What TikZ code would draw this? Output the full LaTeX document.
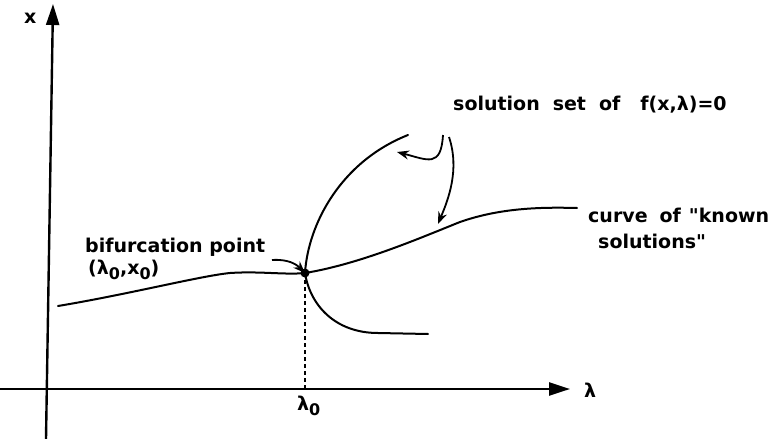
\documentclass[tikz,border=0pt]{standalone}
\usepackage{fontspec}
\setmainfont[Ligatures=TeXOff]{DejaVu Sans}
\usetikzlibrary{arrows.meta}

\begin{document}
\begin{tikzpicture}[
    x=1pt, y=-1pt,
    font=\bfseries\fontsize{19}{23}\selectfont,
    lbl/.style={inner sep=0pt, anchor=west},
    curve/.style={line width=2pt, line cap=round, line join=round},
    axis/.style={line width=2.4pt, -{Triangle[length=21pt, width=13pt]}},
    arr/.style={line width=1.8pt, -{Stealth[length=12pt, width=9pt]}}
]
\useasboundingbox (0,0) rectangle (782,439);
\newcommand{\sub}[1]{\raisebox{-5pt}{\fontsize{16}{16}\selectfont #1}}

% axes
\coordinate (o1) at (46,439);
\coordinate (ytip) at (53,4);
\coordinate (o2) at (0,389);
\coordinate (xtip) at (570,389);
\draw[axis] (o1) -- (ytip);
\draw[axis] (o2) -- (xtip);
\node[lbl] (xlab) at (24,18) {x};
\node[lbl] (lamlab) at (584,390) {λ};

% bifurcation point
\coordinate (bp) at (305,273);
\coordinate (bpfoot) at (305,389);
\draw[line width=1.6pt, dash pattern=on 4pt off 3pt] (bp) -- (bpfoot);
\node[lbl] (lam0) at (297,406) {λ\sub{0}};

% curve of known solutions
\draw[curve] (58,306) .. controls (130,294) and (200,276) .. (230,273)
    .. controls (260,271) and (285,275) .. (bp)
    .. controls (360,264) and (420,238) .. (460,222)
    .. controls (500,208) and (540,207) .. (577,208);

% solution set
\draw[curve] (408,135) .. controls (340,162) and (308,225) .. (bp)
    .. controls (310,305) and (335,333) .. (378,333) -- (428,334);
\fill (bp) circle (4.5pt);

% labels
\node[lbl] (sol) at (453,105) {solution\hspace{13pt}set\hspace{13pt}of\hspace{20pt}f(x,λ)=0};
\node[lbl] (known) at (588,215) {curve\hspace{12pt}of\hspace{8pt}"known};
\node[lbl] (known2) at (598,241) {solutions"};
\node[lbl] (bif) at (85,247) {bifurcation point};
\node[lbl] (bifxy) at (88,270) {(λ\sub{0},x\sub{0})};

% arrows
\coordinate (s1) at (443,135);
\coordinate (t1) at (397,152);
\coordinate (s2) at (449,137);
\coordinate (t2) at (438,224);
\coordinate (b1) at (272,260);
\draw[arr] (s1) .. controls (441,168) and (428,160) .. (t1);
\draw[arr] (s2) .. controls (460,170) and (448,200) .. (t2);
\draw[arr] (b1) .. controls (288,259) and (296,264) .. (bp);
\end{tikzpicture}
\end{document}
